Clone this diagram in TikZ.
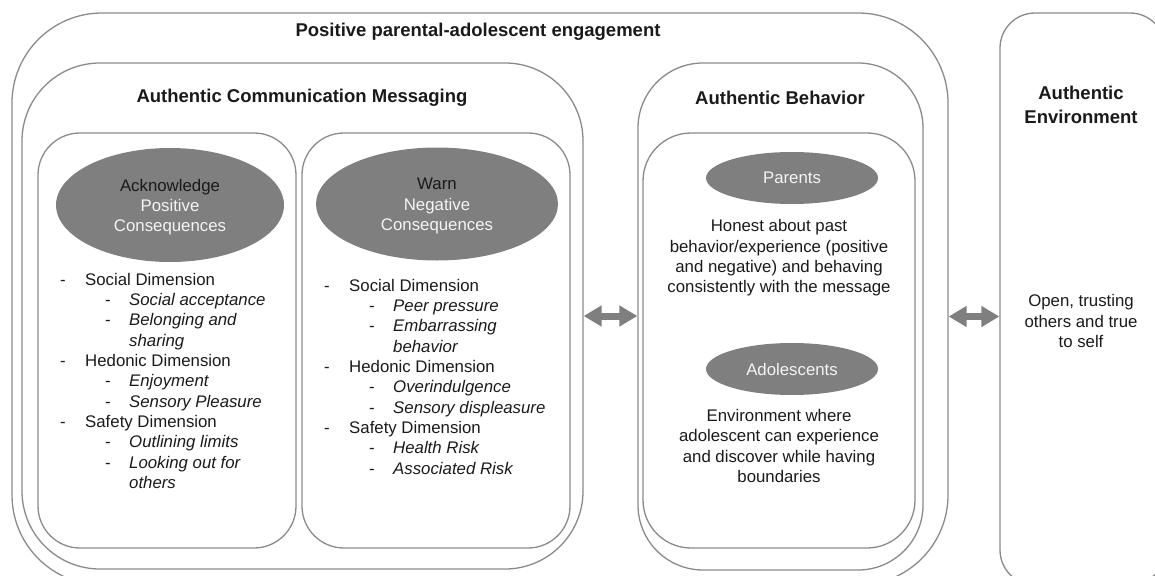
\documentclass[tikz,border=0pt]{standalone}
\usepackage{fontspec}
\setmainfont{Liberation Sans}
\usetikzlibrary{arrows.meta,shapes.geometric}
\definecolor{framegrey}{HTML}{8A8A8A}
\definecolor{blobgrey}{HTML}{7F7F7F}
\definecolor{inktext}{HTML}{1A1A1A}
\definecolor{blobtext}{HTML}{F4F4F4}

% list helpers: main item, sub item, continuation of a sub item
\newcommand{\lstmain}[1]{\makebox[25pt][l]{-}#1}
\newcommand{\lstsub}[1]{\hspace*{45pt}\makebox[24pt][l]{-}\textit{#1}}
\newcommand{\lstcont}[1]{\hspace*{69pt}\textit{#1}}

\begin{document}
\begin{tikzpicture}[x=1pt,y=-1pt,
  panel/.style={draw=framegrey, line width=1.3pt, inner sep=0pt, rectangle},
  blob/.style={ellipse, fill=blobgrey, draw=none, inner sep=0pt},
  heading/.style={font=\fontsize{18.5}{24}\selectfont\bfseries, text=inktext, align=center, inner sep=0pt},
  body/.style={font=\fontsize{16.8}{20.3}\selectfont, text=inktext, inner sep=0pt},
  blobtitle/.style={font=\fontsize{16.8}{20.3}\selectfont, text=blobtext, align=center, inner sep=0pt},
  link/.style={draw=blobgrey, line width=7pt,
    {Triangle[length=18pt,width=20pt]}-{Triangle[length=18pt,width=20pt]}}
]
\useasboundingbox (0,0) rectangle (1155,575);
\clip (0,0) rectangle (1155,575);

% ---- frames ----
\node[panel, minimum width=936pt, minimum height=572pt, rounded corners=90pt] (outer) at (480,299) {};
\node[panel, minimum width=561pt, minimum height=506pt, rounded corners=78pt] (cm) at (302.5,316) {};
\node[panel, minimum width=258pt, minimum height=415pt, rounded corners=42pt] (ack) at (167,340.5) {};
\node[panel, minimum width=268pt, minimum height=415pt, rounded corners=42pt] (warn) at (436,340.5) {};
\node[panel, minimum width=285pt, minimum height=507pt, rounded corners=65pt] (ab) at (780.5,316.5) {};
\node[panel, minimum width=272pt, minimum height=415pt, rounded corners=48pt] (abin) at (779,340.5) {};
\node[panel, minimum width=165pt, minimum height=572pt, rounded corners=35pt] (env) at (1082.5,299) {};

% ---- headings ----
\node[heading] (ttop) at (478,32) {Positive parental-adolescent engagement};
\node[heading] (tcm) at (302,98) {Authentic Communication Messaging};
\node[heading] (tab) at (780,98) {Authentic Behavior};
\node[heading] (tenv) at (1081,105) {Authentic\\Environment};

% ---- ellipses ----
\node[blob, minimum width=228pt, minimum height=114pt] (ackblob) at (170,205) {};
\node[blob, minimum width=242pt, minimum height=113pt] (warnblob) at (437,204) {};
\node[blob, minimum width=172pt, minimum height=52pt] (parents) at (792,178) {};
\node[blob, minimum width=172pt, minimum height=52pt] (adol) at (792,369) {};

\node[blobtitle] (acktxt) at ([yshift=-2pt]ackblob.center) {\textcolor{inktext}{Acknowledge}\\Positive\\Consequences};
\node[blobtitle] (warntxt) at ([yshift=-2pt]warnblob.center) {\textcolor{inktext}{Warn}\\Negative\\Consequences};
\node[blobtitle] (partxt) at (parents.center) {Parents};
\node[blobtitle] (adoltxt) at (adol.center) {Adolescents};

% ---- lists ----
\node[body, align=left, anchor=north west] (acklist) at (60,273) {%
\lstmain{Social Dimension}\\
\lstsub{Social acceptance}\\
\lstsub{Belonging and}\\
\lstcont{sharing}\\
\lstmain{Hedonic Dimension}\\
\lstsub{Enjoyment}\\
\lstsub{Sensory Pleasure}\\
\lstmain{Safety Dimension}\\
\lstsub{Outlining limits}\\
\lstsub{Looking out for}\\
\lstcont{others}};

\node[body, align=left, anchor=north west] (warnlist) at (324,279) {%
\lstmain{Social Dimension}\\
\lstsub{Peer pressure}\\
\lstsub{Embarrassing}\\
\lstcont{behavior}\\
\lstmain{Hedonic Dimension}\\
\lstsub{Overindulgence}\\
\lstsub{Sensory displeasure}\\
\lstmain{Safety Dimension}\\
\lstsub{Health Risk}\\
\lstsub{Associated Risk}};

% ---- paragraphs ----
\node[body, align=center] (partext) at (779,258) {Honest about past\\behavior/experience (positive\\and negative) and behaving\\consistently with the message};
\node[body, align=center] (adoltext) at (779,446) {Environment where\\adolescent can experience\\and discover while having\\boundaries};
\node[body, align=center] (envtext) at (1081,321) {Open, trusting\\others and true\\to self};

% ---- two-way links ----
\draw[link] (cm.east) -- (cm.east -| ab.west);
\draw[link] (outer.east |- ab.center) -- (env.west |- ab.center);
\end{tikzpicture}
\end{document}
